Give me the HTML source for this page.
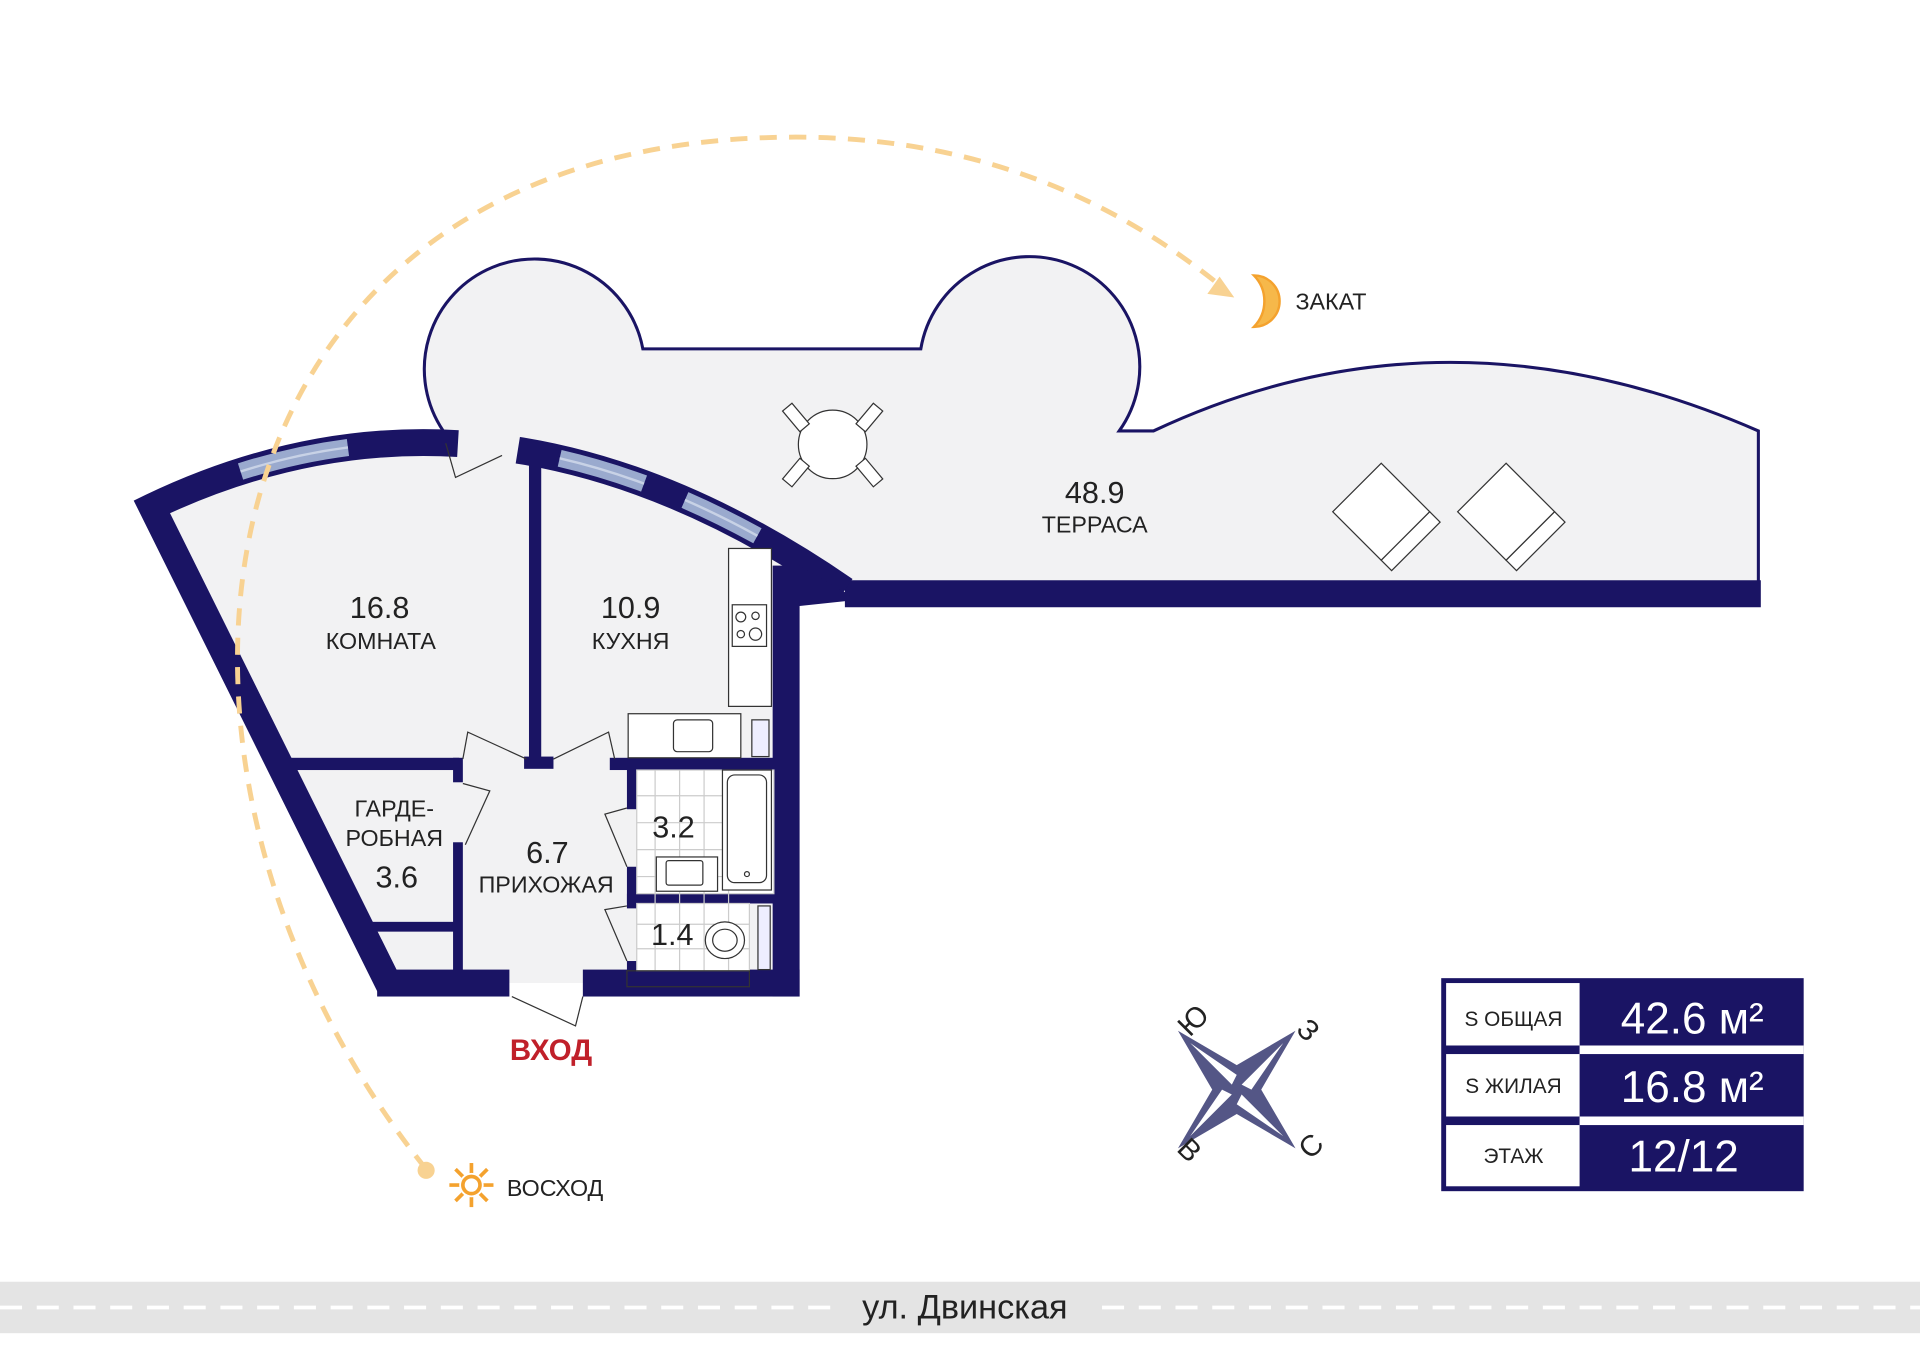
<!DOCTYPE html>
<html><head><meta charset="utf-8"><style>
html,body{margin:0;padding:0;background:#fff;}
svg{display:block;}
text{font-family:"Liberation Sans",sans-serif;}
</style></head><body>
<svg width="1920" height="1354" viewBox="0 0 1568 1106" preserveAspectRatio="none" xmlns="http://www.w3.org/2000/svg">
<rect width="1568" height="1106" fill="#fff"/>
<!-- terrace -->
<path d="M362,362 L362,352 A90,90 0 1 1 525,285 L752,285 A90,90 0 1 1 914,352 L942,352 Q1180,240 1436,352 L1436,485 L690,485 Z" fill="#f2f2f3" stroke="#1a1464" stroke-width="2.5"/>
<!-- apartment floor -->
<path d="M124,414 Q400,282 690,478 L642,478 L642,803 L318,803 Z" fill="#f2f2f3"/>
<!-- bottom terrace wall -->
<path d="M690,485 L1438,485" stroke="#1a1464" stroke-width="22"/>
<!-- outer curved wall + left wall -->
<path d="M318,805 L124,414 Q400,282 690,482" fill="none" stroke="#1a1464" stroke-width="22" stroke-linejoin="miter"/>
<!-- windows -->
<path d="M124,414 Q400,282 690,482" pathLength="1000" fill="none" stroke="#9aaace" stroke-width="14" stroke-dasharray="0 130 150 290 120 60 110 1000"/>
<path d="M124,414 Q400,282 690,482" pathLength="1000" fill="none" stroke="#c8d2e6" stroke-width="2" stroke-dasharray="0 130 150 290 120 60 110 1000"/>
<!-- door gap to terrace -->
<path d="M124,414 Q400,282 690,482" pathLength="1000" fill="none" stroke="#f2f2f3" stroke-width="24" stroke-dasharray="0 430 82 1000"/>
<path d="M364,362 L372,390 L410,372" fill="none" stroke="#333" stroke-width="1"/>
<!-- right wall -->
<rect x="631" y="462" width="22" height="352" fill="#1a1464"/>
<path d="M642,470 L653,462 L700,490 L653,495Z" fill="#1a1464"/>
<!-- bottom wall -->
<rect x="308" y="792" width="108" height="22" fill="#1a1464"/>
<rect x="476" y="792" width="177" height="22" fill="#1a1464"/>
<path d="M418,814 L470,838 L476,814" fill="none" stroke="#333" stroke-width="1"/>
<!-- interior walls -->
<rect x="432" y="368" width="10" height="256" fill="#1a1464"/>
<rect x="428" y="618" width="24" height="10" fill="#1a1464"/>
<rect x="235" y="619" width="140" height="10" fill="#1a1464"/>
<rect x="498" y="619" width="134" height="10" fill="#1a1464"/>
<rect x="370" y="619" width="8" height="20" fill="#1a1464"/>
<rect x="370" y="688" width="8" height="106" fill="#1a1464"/>
<rect x="300" y="753" width="74" height="8" fill="#1a1464"/>
<rect x="512" y="619" width="8" height="42" fill="#1a1464"/>
<rect x="512" y="708" width="8" height="34" fill="#1a1464"/>
<rect x="512" y="730" width="120" height="8" fill="#1a1464"/>
<rect x="512" y="785" width="8" height="10" fill="#1a1464"/>
<!-- door leaves -->
<path d="M378,640 L400,646 L380,690" fill="none" stroke="#333" stroke-width="1"/>
<path d="M378,620 L382,598 L430,620" fill="none" stroke="#333" stroke-width="1"/>
<path d="M452,620 L497,598 L502,620" fill="none" stroke="#333" stroke-width="1"/>
<path d="M512,660 L494,665 L512,708" fill="none" stroke="#333" stroke-width="1"/>
<path d="M512,740 L494,743 L512,785" fill="none" stroke="#333" stroke-width="1"/>
<!-- bathroom tiles -->
<g stroke="#ccc" stroke-width="1">
<rect x="520" y="629" width="112" height="101" fill="#fff"/>
<rect x="520" y="738" width="92" height="55" fill="#fff"/>
<line x1="535" y1="629" x2="535" y2="793"/><line x1="555" y1="629" x2="555" y2="793"/><line x1="575" y1="629" x2="575" y2="793"/><line x1="595" y1="629" x2="595" y2="793"/>
<line x1="520" y1="650" x2="590" y2="650"/><line x1="520" y1="672" x2="590" y2="672"/><line x1="520" y1="694" x2="590" y2="694"/><line x1="520" y1="716" x2="590" y2="716"/>
<line x1="520" y1="755" x2="612" y2="755"/><line x1="520" y1="775" x2="612" y2="775"/>
</g>
<rect x="512" y="793" width="100" height="13" fill="none" stroke="#333" stroke-width="1"/>
<!-- fixtures -->
<g fill="#fff" stroke="#333" stroke-width="1">
<rect x="595" y="448" width="35" height="129"/>
<rect x="598" y="494" width="28" height="34"/>
<circle cx="605" cy="504" r="4"/><circle cx="617" cy="503" r="3"/><circle cx="605" cy="518" r="3"/><circle cx="617" cy="518" r="5"/>
<rect x="513" y="583" width="92" height="36"/>
<rect x="550" y="588" width="32" height="26" rx="3"/>
<rect x="614" y="588" width="14" height="30" fill="#eef"/>
<rect x="590" y="629" width="40" height="98"/>
<rect x="594" y="633" width="32" height="88" rx="6"/>
<circle cx="610" cy="714" r="2"/>
<rect x="536" y="700" width="50" height="28"/>
<rect x="544" y="703" width="30" height="20" rx="2"/>
<ellipse cx="592" cy="768" rx="16" ry="15"/><ellipse cx="592" cy="768" rx="10" ry="9"/>
<rect x="619" y="740" width="10" height="52" fill="#eef"/>
<circle cx="680" cy="363" r="28"/>
<rect x="645" y="330" width="10" height="22" transform="rotate(-40 650 341)"/>
<rect x="705" y="330" width="10" height="22" transform="rotate(40 710 341)"/>
<rect x="645" y="375" width="10" height="22" transform="rotate(40 650 386)"/>
<rect x="705" y="375" width="10" height="22" transform="rotate(-40 710 386)"/>
<g transform="rotate(-45 1128 418)"><rect x="1100" y="390" width="56" height="56"/><rect x="1100" y="446" width="56" height="12"/></g>
<g transform="rotate(-45 1230 418)"><rect x="1202" y="390" width="56" height="56"/><rect x="1202" y="446" width="56" height="12"/></g>
</g>
<!-- sun path -->
<path d="M348,955 C80,620 150,112 650,112 C820,112 930,180 995,232" fill="none" stroke="#f8d292" stroke-width="4" stroke-dasharray="14 10"/>
<path d="M1008,243 L986,240 L996,226Z" fill="#f8d292"/>
<circle cx="348" cy="956" r="7" fill="#f8d292"/>
<path d="M1024,225 A21,21 0 0 1 1024,267 A30,30 0 0 0 1024,225Z" fill="#f6b84a" stroke="#f4a22e" stroke-width="2"/>
<g stroke="#f4a22e" stroke-width="3"><line x1="385" y1="950" x2="385" y2="986"/><line x1="367" y1="968" x2="403" y2="968"/><line x1="372" y1="955" x2="398" y2="981"/><line x1="398" y1="955" x2="372" y2="981"/></g>
<circle cx="385" cy="968" r="10" fill="#fff"/><circle cx="385" cy="968" r="7" fill="#fff" stroke="#f4a22e" stroke-width="3"/>
<text x="1058" y="253" font-size="19" fill="#222">ЗАКАТ</text>
<text x="414" y="977" font-size="19" fill="#222">ВОСХОД</text>
<!-- labels -->
<g fill="#222" text-anchor="middle">
<text x="310" y="505" font-size="25">16.8</text><text x="311" y="530" font-size="19">КОМНАТА</text>
<text x="515" y="505" font-size="25">10.9</text><text x="515" y="530" font-size="19">КУХНЯ</text>
<text x="894" y="411" font-size="25">48.9</text><text x="894" y="435" font-size="19">ТЕРРАСА</text>
<text x="322" y="667" font-size="19">ГАРДЕ-</text><text x="322" y="691" font-size="19">РОБНАЯ</text>
<text x="324" y="725" font-size="25">3.6</text>
<text x="447" y="705" font-size="25">6.7</text><text x="446" y="729" font-size="19">ПРИХОЖАЯ</text>
<text x="550" y="684" font-size="25">3.2</text>
<text x="549" y="772" font-size="25">1.4</text>
<text x="450" y="866" font-size="24" font-weight="bold" fill="#c0202a">ВХОД</text>
</g>
<!-- compass -->
<g transform="translate(1010,890)">
<path d="M-48,-48 L0,-20 L48,-48 L20,0 L48,48 L0,20 L-48,48 L-20,0Z" fill="#545686"/>
<path d="M-38,-38 L0,-12 L-4,-4Z M38,-38 L12,0 L4,-4Z M38,38 L0,12 L4,4Z M-38,38 L-12,0 L-4,4Z" fill="#fff"/>
<text x="-44" y="-40" font-size="24" fill="#222" transform="rotate(-45 -44 -48)">Ю</text>
<text x="50" y="-42" font-size="24" fill="#222" transform="rotate(45 56 -48)">З</text>
<text x="-46" y="56" font-size="24" fill="#222" transform="rotate(45 -40 48)">В</text>
<text x="52" y="58" font-size="24" fill="#222" transform="rotate(-45 56 48)">С</text>
</g>
<!-- table -->
<rect x="1177" y="799" width="296" height="174" fill="#1a1464"/>
<rect x="1181" y="803" width="109" height="51" fill="#fff"/>
<rect x="1181" y="861" width="109" height="51" fill="#fff"/>
<rect x="1181" y="919" width="109" height="50" fill="#fff"/>
<rect x="1290" y="854" width="183" height="7" fill="#fff"/>
<rect x="1290" y="912" width="183" height="7" fill="#fff"/>
<g fill="#222" font-size="17" text-anchor="middle"><text x="1236" y="838">S ОБЩАЯ</text><text x="1236" y="893">S ЖИЛАЯ</text><text x="1236" y="950">ЭТАЖ</text></g>
<g fill="#fff" font-size="36" text-anchor="middle"><text x="1382" y="844">42.6 м²</text><text x="1382" y="900">16.8 м²</text><text x="1375" y="957">12/12</text></g>
<!-- street -->
<rect x="0" y="1047" width="1568" height="42" fill="#e4e4e4"/>
<line x1="0" y1="1068" x2="1568" y2="1068" stroke="#fff" stroke-width="3" stroke-dasharray="18 12"/>
<rect x="680" y="1050" width="210" height="36" fill="#e4e4e4"/>
<text x="788" y="1077" font-size="28" fill="#222" text-anchor="middle">ул. Двинская</text>
</svg>
</body></html>
